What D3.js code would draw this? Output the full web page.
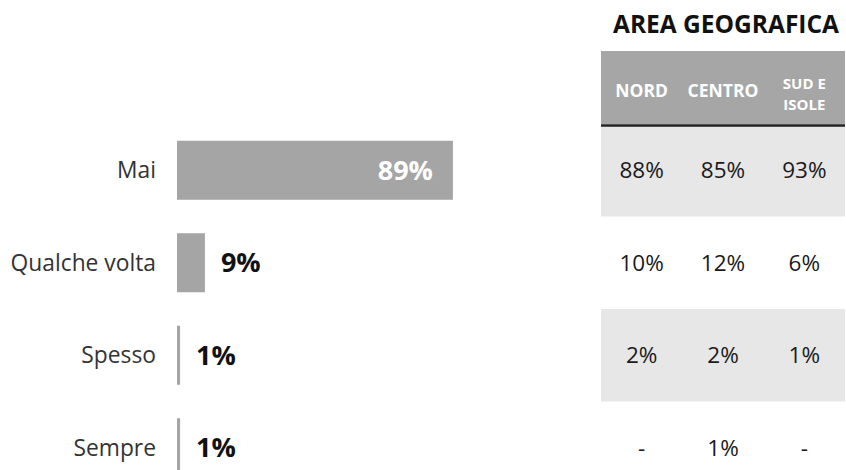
<!DOCTYPE html>
<html>
<head>
<meta charset="utf-8">
<script src="https://cdn.jsdelivr.net/npm/d3@7.9.0/dist/d3.min.js"></script>
<style>
  html, body { margin: 0; padding: 0; background: #fff; }
  svg { display: block; font-family: "Open Sans", sans-serif; }
</style>
</head>
<body>
<svg id="chart" width="846" height="470"></svg>
<script>
// --- data ---
const categories = ['Mai', 'Qualche volta', 'Spesso', 'Sempre'];
const totals = [89, 9, 1, 1];
const areas = ['NORD', 'CENTRO', 'SUD E ISOLE'];
const areaLabels = [['NORD'], ['CENTRO'], ['SUD E', 'ISOLE']];
const nord = [88, 10, 2, null];
const centro = [85, 12, 2, 1];
const sudIsole = [93, 6, 1, null];
const tableTitle = 'AREA GEOGRAFICA';

const svg = d3.select('#chart');

// scales
const rows = d3.scaleBand().domain(categories).range([124, 494]).paddingInner(0);
const barY = d3.scaleBand().domain(categories).range([124, 494])
  .paddingInner(0.362).paddingOuter(0.181);
const x = d3.scaleLinear().domain([0, 100]).range([177, 487]);
const col = d3.scaleBand().domain(areas).range([601, 845]);

const barColor = '#a5a5a5';

// --- table background rows (alternating shade) ---
svg.append('g').selectAll('rect')
  .data(categories.filter((d, i) => i % 2 === 0))
  .join('rect')
  .attr('x', 601)
  .attr('y', d => rows(d))
  .attr('width', 845 - 601)
  .attr('height', rows.bandwidth())
  .attr('fill', '#e7e7e7');

// header block
svg.append('rect')
  .attr('x', 601).attr('y', 51)
  .attr('width', 845 - 601).attr('height', 73)
  .attr('fill', '#a6a6a6');
svg.append('line')
  .attr('x1', 601).attr('x2', 845)
  .attr('y1', 125.5).attr('y2', 125.5)
  .attr('stroke', '#222').attr('stroke-width', 2.5);

svg.append('text')
  .attr('x', 726).attr('y', 33)
  .attr('text-anchor', 'middle')
  .attr('font-weight', 700)
  .attr('font-size', 24.5)
  .attr('fill', '#111')
  .text(tableTitle);

// header labels
areas.forEach((a, i) => {
  const lines = areaLabels[i];
  const cx = col(a) + col.bandwidth() / 2;
  if (lines.length === 1) {
    svg.append('text')
      .attr('x', cx).attr('y', 97)
      .attr('text-anchor', 'middle')
      .attr('font-weight', 700)
      .attr('fill', '#fff')
      .attr('font-size', 17.5)
      .text(lines[0]);
  } else {
    lines.forEach((l, j) => {
      svg.append('text')
        .attr('x', cx).attr('y', 89 + j * 20.5)
        .attr('text-anchor', 'middle')
        .attr('font-weight', 700)
        .attr('fill', '#fff')
        .attr('font-size', 15)
        .text(l);
    });
  }
});

// table values
const cols = [nord, centro, sudIsole];
cols.forEach((vals, ci) => {
  svg.append('g').selectAll('text')
    .data(vals)
    .join('text')
    .attr('x', col(areas[ci]) + col.bandwidth() / 2)
    .attr('y', (d, i) => rows(categories[i]) + rows.bandwidth() / 2)
    .attr('dy', '0.36em')
    .attr('text-anchor', 'middle')
    .attr('font-size', 22.5)
    .attr('fill', '#1a1a1a')
    .text(d => d == null ? '-' : d + '%');
});

// --- bars ---
svg.append('g').selectAll('rect')
  .data(totals)
  .join('rect')
  .attr('x', x(0))
  .attr('y', (d, i) => barY(categories[i]))
  .attr('width', d => x(d) - x(0))
  .attr('height', barY.bandwidth())
  .attr('fill', barColor);

// category labels
svg.append('g').selectAll('text')
  .data(categories)
  .join('text')
  .attr('x', 156)
  .attr('y', d => barY(d) + barY.bandwidth() / 2)
  .attr('dy', '0.36em')
  .attr('text-anchor', 'end')
  .attr('font-size', 22.8)
  .attr('fill', '#333')
  .text(d => d);

// value labels: inside the long bar, outside otherwise
svg.append('g').selectAll('text')
  .data(totals)
  .join('text')
  .attr('x', d => d > 30 ? x(d) - 20 : x(d) + 16)
  .attr('y', (d, i) => barY(categories[i]) + barY.bandwidth() / 2)
  .attr('dy', '0.36em')
  .attr('text-anchor', d => d > 30 ? 'end' : 'start')
  .attr('font-weight', 700)
  .attr('font-size', 27)
  .attr('fill', d => d > 30 ? '#fff' : '#111')
  .text(d => d + '%');
</script>
</body>
</html>
